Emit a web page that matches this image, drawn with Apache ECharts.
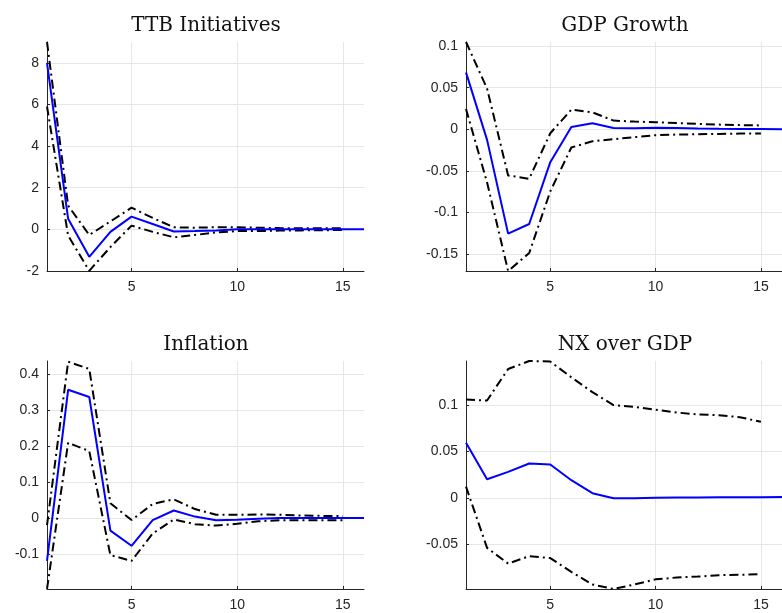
<!DOCTYPE html>
<html>
<head>
<meta charset="utf-8">
<script src="https://cdn.jsdelivr.net/npm/echarts@6/dist/echarts.min.js"></script>
<style>
html,body{margin:0;padding:0;background:#fff;}
#chart{width:782px;height:613px;}
</style>
</head>
<body>
<div id="chart"></div>
<script>
// Horizons
var horizonsMean = [1,2,3,4,5,6,7,8,9,10,11,12,13,14,15,16];
var horizonsBand = [1,2,3,4,5,6,7,8,9,10,11,12,13,14,15];
var xTicks = [5, 10, 15];

// TTB Initiatives
var ttbMean  = [8.0, 0.51, -1.32, -0.12, 0.61, 0.26, -0.1, -0.08, -0.05, 0.0, 0.0, 0.0, 0.0, 0.0, 0.0, 0.0];
var ttbUpper = [9.0, 1.14, -0.27, 0.38, 1.04, 0.55, 0.1, 0.08, 0.1, 0.1, 0.08, 0.06, 0.05, 0.05, 0.05];
var ttbLower = [5.9, -0.3, -1.99, -0.85, 0.18, -0.12, -0.38, -0.27, -0.15, -0.08, -0.08, -0.06, -0.05, -0.04, -0.03];
var ttbTicks = [-2, 0, 2, 4, 6, 8];

// GDP Growth
var gdpMean  = [0.0684, -0.0128, -0.1256, -0.114, -0.0396, 0.0028, 0.0072, 0.0016, 0.0012, 0.0018, 0.0016, 0.001, 0.0006, 0.0004, 0.0002, 0.0];
var gdpUpper = [0.105, 0.049, -0.0556, -0.0596, -0.0048, 0.0236, 0.0204, 0.0104, 0.0092, 0.0084, 0.0074, 0.0064, 0.0056, 0.005, 0.0046];
var gdpLower = [0.0244, -0.064, -0.1706, -0.149, -0.0748, -0.022, -0.0145, -0.012, -0.0095, -0.0072, -0.0064, -0.006, -0.0056, -0.0052, -0.005];
var gdpTicks = [-0.15, -0.1, -0.05, 0, 0.05, 0.1];

// Inflation
var infMean  = [-0.119, 0.356, 0.336, -0.035, -0.077, -0.0056, 0.021, 0.004, -0.006, -0.005, -0.002, 0.0, 0.0, 0.0, 0.0, 0.0];
var infUpper = [-0.02, 0.434, 0.414, 0.041, -0.0056, 0.039, 0.052, 0.025, 0.009, 0.009, 0.01, 0.009, 0.007, 0.006, 0.006];
var infLower = [-0.197, 0.209, 0.186, -0.103, -0.119, -0.043, -0.004, -0.017, -0.021, -0.016, -0.009, -0.006, -0.006, -0.006, -0.006];
var infTicks = [-0.1, 0, 0.1, 0.2, 0.3, 0.4];

// NX over GDP
var nxMean  = [0.0595, 0.020, 0.028, 0.037, 0.036, 0.019, 0.005, -0.0005, -0.0005, 0.0, 0.0002, 0.0004, 0.0005, 0.0006, 0.0007, 0.0008];
var nxUpper = [0.106, 0.105, 0.139, 0.1476, 0.147, 0.13, 0.114, 0.100, 0.098, 0.095, 0.092, 0.090, 0.089, 0.087, 0.082];
var nxLower = [0.012, -0.054, -0.071, -0.063, -0.065, -0.080, -0.0935, -0.0984, -0.0935, -0.088, -0.086, -0.085, -0.0835, -0.083, -0.0825];
var nxTicks = [-0.05, 0, 0.05, 0.1];

var panels = [
  {title: 'TTB Initiatives', mean: ttbMean, upper: ttbUpper, lower: ttbLower, ticks: ttbTicks, min: -2, max: 9.0},
  {title: 'GDP Growth', mean: gdpMean, upper: gdpUpper, lower: gdpLower, ticks: gdpTicks, min: -0.1706, max: 0.105},
  {title: 'Inflation', mean: infMean, upper: infUpper, lower: infLower, ticks: infTicks, min: -0.197, max: 0.436},
  {title: 'NX over GDP', mean: nxMean, upper: nxUpper, lower: nxLower, ticks: nxTicks, min: -0.0984, max: 0.1476}
];

var layout = [
  {left: 47, top: 42, width: 317, height: 229},
  {left: 466, top: 42, width: 317, height: 229},
  {left: 47, top: 361, width: 317, height: 228},
  {left: 466, top: 361, width: 317, height: 228}
];

var axisColor = '#262626';
var gridColor = '#e6e6e6';
var labelFont = {color: '#262626', fontSize: 14, fontFamily: 'Liberation Sans, Arial, sans-serif'};

var grids = [], xAxes = [], yAxes = [], series = [], graphics = [];
panels.forEach(function (p, i) {
  var L = layout[i];
  grids.push({left: L.left, top: L.top, width: L.width, height: L.height, containLabel: false});
  xAxes.push({
    type: 'value', gridIndex: i, min: 1, max: 16, position: 'bottom',
    axisLine: {show: true, onZero: false, lineStyle: {color: axisColor, width: 1}},
    axisTick: {show: true, inside: true, length: 3, customValues: xTicks, lineStyle: {color: axisColor}},
    axisLabel: Object.assign({customValues: xTicks, margin: 9, showMinLabel: true, showMaxLabel: true}, labelFont),
    splitLine: {show: true, lineStyle: {color: gridColor, width: 1}}
  });
  yAxes.push({
    type: 'value', gridIndex: i, min: p.min, max: p.max, position: 'left',
    axisLine: {show: true, onZero: false, lineStyle: {color: axisColor, width: 1}},
    axisTick: {show: true, inside: true, length: 3, customValues: p.ticks, lineStyle: {color: axisColor}},
    axisLabel: Object.assign({customValues: p.ticks, margin: 8, formatter: function (v) { return String(v); }}, labelFont),
    splitLine: {show: true, lineStyle: {color: gridColor, width: 1}}
  });
  var dashDot = {color: '#000', width: 2, type: [9, 4, 2, 4]};
  series.push({
    type: 'line', xAxisIndex: i, yAxisIndex: i, showSymbol: false, symbol: 'none',
    data: p.upper.map(function (v, k) { return [horizonsBand[k], v]; }),
    lineStyle: dashDot, z: 2, clip: true
  });
  series.push({
    type: 'line', xAxisIndex: i, yAxisIndex: i, showSymbol: false, symbol: 'none',
    data: p.lower.map(function (v, k) { return [horizonsBand[k], v]; }),
    lineStyle: dashDot, z: 2, clip: true
  });
  series.push({
    type: 'line', xAxisIndex: i, yAxisIndex: i, showSymbol: false, symbol: 'none',
    data: p.mean.map(function (v, k) { return [horizonsMean[k], v]; }),
    lineStyle: {color: '#0000ff', width: 2}, z: 3, clip: true
  });
  graphics.push({
    type: 'text',
    x: L.left + 159,
    y: L.top - 16,
    style: {
      text: p.title,
      font: '20px "DejaVu Serif", serif',
      fill: '#111',
      align: 'center', textAlign: 'center',
      verticalAlign: 'middle', textVerticalAlign: 'middle'
    }
  });
});

var chart = echarts.init(document.getElementById('chart'), null, {renderer: 'canvas'});
chart.setOption({
  animation: false,
  backgroundColor: '#fff',
  grid: grids,
  xAxis: xAxes,
  yAxis: yAxes,
  series: series,
  graphic: graphics
});
</script>
</body>
</html>
